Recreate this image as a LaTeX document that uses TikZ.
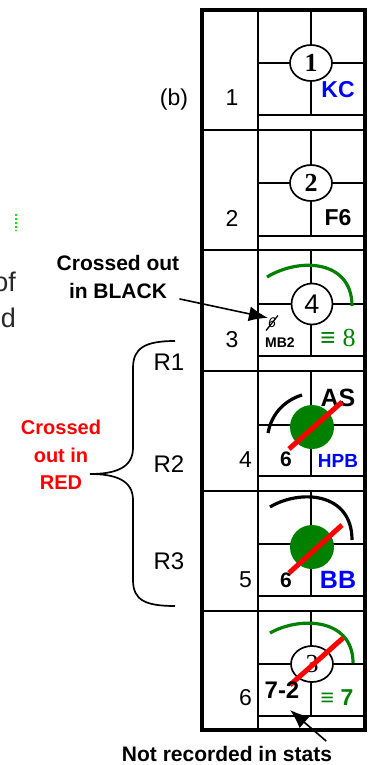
\documentclass[tikz,border=0pt]{standalone}
\usepackage{fontspec}
\setmainfont{Liberation Sans}
\newfontfamily\serifnum{Liberation Serif}
\usepackage{tikz}
\usetikzlibrary{arrows.meta, shapes.geometric}
\definecolor{hitgreen}{RGB}{0,128,0}
\definecolor{markgreen}{RGB}{0,230,0}
\definecolor{pagegray}{RGB}{40,40,40}

\begin{document}
\begin{tikzpicture}[x=1pt, y=-1pt, every text node part/.style={align=center}]

\tikzstyle{boxframe}=[draw, line width=3.4pt]
\tikzstyle{gridline}=[draw, line width=2.8pt]
\tikzstyle{rownum}=[inner sep=0, font=\fontsize{23}{25}\selectfont]
\tikzstyle{cellmark}=[inner sep=0, font=\bfseries\fontsize{23}{25}\selectfont]
\tikzstyle{ring}=[draw, fill=white, ellipse, line width=1.7pt, minimum width=42pt, minimum height=36pt, inner sep=0, font=\serifnum\bfseries\fontsize{26}{28}\selectfont]
\tikzstyle{ball}=[circle, fill=hitgreen, minimum size=44pt, inner sep=0]
\tikzstyle{strike}=[draw=red, line width=5pt]
\tikzstyle{swing}=[draw, line width=3.2pt]
\tikzstyle{note}=[inner sep=0, font=\bfseries\fontsize{21}{28}\selectfont]
\tikzstyle{pointer}=[draw, line width=1.6pt, -{Latex[length=19pt,width=15pt]}]
\tikzstyle{brace}=[draw, line width=1.7pt]

\useasboundingbox (0,0) rectangle (368,765);

\node [rownum, text=pagegray, anchor=east, font=\fontsize{27}{29}\selectfont] (cutof) at (16,282) {of};
\node [rownum, text=pagegray, anchor=east, font=\fontsize{27}{29}\selectfont] (cutd)  at (16,318) {d};
\draw [draw=markgreen, line width=1.6pt, dash pattern=on 2pt off 2pt] (16,214) -- (16,231);

\node [rownum] (panel) at (174,100) {(b)};

\draw [boxframe] (202,10) rectangle (365,730);
\draw [gridline] (258,10) -- (258,730);
\draw [gridline] (202,130) -- (365,130) (202,250) -- (365,250) (202,371) -- (365,371)
                 (202,491) -- (365,491) (202,611) -- (365,611);

\draw [gridline] (311, 10) -- (311,115) (258, 63) -- (365, 63) (258,115) -- (365,115);
\draw [gridline] (311,130) -- (311,236) (258,183) -- (365,183) (258,236) -- (365,236);
\draw [gridline] (311,250) -- (311,356) (258,304) -- (365,304) (258,356) -- (365,356);
\draw [gridline] (311,371) -- (311,476) (258,425) -- (365,425) (258,476) -- (365,476);
\draw [gridline] (311,491) -- (311,596) (258,544) -- (365,544) (258,596) -- (365,596);
\draw [gridline] (311,611) -- (311,716) (258,664) -- (365,664) (258,716) -- (365,716);

\node [rownum] (row1) at (232, 98) {1};
\node [rownum] (row2) at (232,218) {2};
\node [rownum] (row3) at (232,340) {3};
\node [rownum, anchor=east] (row4) at (252,460) {4};
\node [rownum, anchor=east] (row5) at (252,580) {5};
\node [rownum, anchor=east] (row6) at (252,698) {6};

\node [ring] (one) at (311, 63) {1};
\node [ring] (two) at (311,183) {2};
\node [cellmark, text=blue] (kc) at (338, 90) {KC};
\node [cellmark] (f6) at (338,218) {F6};

\path [swing, draw=hitgreen] (267,277) .. controls (300,257) and (352,260) .. (352,306);
\node [ring, circle, minimum size=41pt, font=\fontsize{27}{29}\selectfont] (four) at (312,304) {4};
\node [inner sep=0, font=\itshape\fontsize{14}{16}\selectfont] (minus6) at (272,323) {6};
\draw [line width=1.3pt, shorten <=-3pt, shorten >=-3pt] (minus6.south west) -- (minus6.north east);
\node [cellmark, font=\bfseries\fontsize{14}{16}\selectfont] (mb2) at (280,343) {MB2};
\node [inner sep=0, text=hitgreen, font=\fontsize{26}{28}\selectfont] (eq8) at (338,338) {≡ {\serifnum 8}};

\path [swing] (268,433) .. controls (272,412) and (286,400) .. (302,395);
\node [ball] (balla) at (312,427) {};
\node [cellmark, font=\bfseries\fontsize{25}{27}\selectfont] (as) at (338,398) {AS};
\path [strike] (289,449) -- (342,402);
\node [cellmark, font=\bfseries\fontsize{21}{23}\selectfont] (sixa) at (286,459) {6};
\node [cellmark, text=blue, font=\bfseries\fontsize{19}{21}\selectfont] (hpb) at (338,461) {HPB};

\path [swing] (270,507) .. controls (300,489) and (352,492) .. (352,540);
\node [ball] (ballb) at (312,547) {};
\path [strike] (289,573) -- (342,525);
\node [cellmark, font=\bfseries\fontsize{21}{23}\selectfont] (sixb) at (286,580) {6};
\node [cellmark, text=blue, font=\bfseries\fontsize{25}{27}\selectfont] (bb) at (338,580) {BB};

\path [swing, draw=hitgreen] (270,633) .. controls (300,616) and (353,618) .. (353,663);
\node [ring, font=\serifnum\fontsize{26}{28}\selectfont] (three) at (312,664) {3};
\path [strike] (290,685) -- (343,638);
\node [cellmark, font=\bfseries\fontsize{24}{26}\selectfont] (seventwo) at (282,690) {7-2};
\node [cellmark, text=hitgreen] (eq7) at (337,698) {{\mdseries ≡} 7};
\coordinate (tip72) at (290,710);

\node [note] (blacknote) at (118,277) {Crossed out\\in BLACK};
\node [note, text=red, font=\bfseries\fontsize{20}{27.5}\selectfont] (rednote) at (61,455) {Crossed\\out in\\RED};
\node [note] (notrec) at (227,754) {Not recorded in stats};

\node [rownum, font=\fontsize{24}{26}\selectfont] (rone)   at (169,362) {R1};
\node [rownum, font=\fontsize{24}{26}\selectfont] (rtwo)   at (169,464) {R2};
\node [rownum, font=\fontsize{24}{26}\selectfont] (rthree) at (169,561) {R3};

\path [brace] (175,341) .. controls (145,341) and (133,348) .. (133,368) -- (133,448)
              .. controls (133,468) and (115,474) .. (90,474)
              .. controls (115,474) and (133,480) .. (133,500) -- (133,580)
              .. controls (133,600) and (145,606) .. (175,606);

\path [pointer] (blacknote.south east) -- (minus6.north west);
\path [pointer] ([shift={(-6pt,5pt)}]notrec.north east) -- (tip72);

\end{tikzpicture}
\end{document}
